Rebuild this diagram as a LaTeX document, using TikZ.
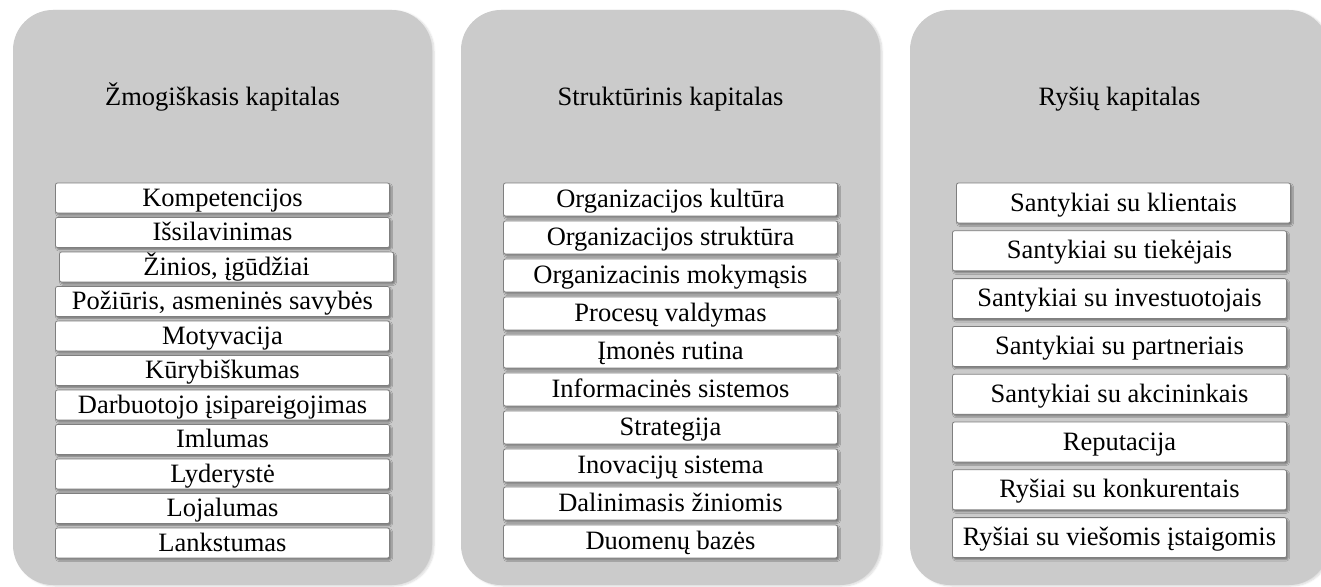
\documentclass[tikz,border=0pt]{standalone}
\usepackage{fontspec}
\setmainfont{Liberation Serif}
\usepackage{xcolor}
\usepackage{tikz}
\usetikzlibrary{positioning,shadows.blur}
\definecolor{icgray}{HTML}{CBCBCB}
\definecolor{icborder}{HTML}{7F7F7F}

\begin{document}
\begin{tikzpicture}[
  x=1pt, y=-1pt,
  font=\fontsize{26.5}{30}\selectfont,
  panel/.style={fill=icgray, rounded corners=40pt, minimum width=419pt,
                minimum height=575pt, inner sep=0pt, outer sep=0pt, anchor=north west,
                blur shadow={shadow xshift=2pt, shadow yshift=-1pt,
                             shadow opacity=15, shadow blur steps=6}},
  paneltitle/.style={inner sep=0pt, anchor=base},
  item/.style={draw=icborder, fill=white, rounded corners=2pt, line width=0.8pt,
               minimum width=334pt, text height=20pt, text depth=4pt,
               inner ysep=0pt, outer sep=0pt,
               blur shadow={shadow xshift=1.5pt, shadow yshift=-2pt,
                            shadow opacity=40, shadow blur radius=1.5pt}},
  hitem/.style={item, minimum height=30pt},
  sitem/.style={item, minimum height=33pt},
  ritem/.style={item, minimum height=40pt}
]
\clip (0,0) rectangle (1321,586);

\node[panel] (human) at (13,10) {};
\node[panel] (struct) at (461,10) {};
\node[panel] (relation) at (910,10) {};

\node[paneltitle] (humantitle) at ([yshift=-95pt]human.north) {Žmogiškasis kapitalas};
\node[paneltitle] (structtitle) at ([yshift=-95pt]struct.north) {Struktūrinis kapitalas};
\node[paneltitle] (relationtitle) at ([yshift=-95pt]relation.north) {Ryšių kapitalas};

% human capital
\node[hitem, anchor=north] (h1) at ([yshift=-173pt]human.north) {Kompetencijos};
\node[hitem, below=4.5pt of h1] (h2) {Išsilavinimas};
\node[hitem, below=4.5pt of h2, xshift=4pt] (h3) {Žinios, įgūdžiai};
\node[hitem, below=4.5pt of h3, xshift=-4pt] (h4) {Požiūris, asmeninės savybės};
\node[hitem, below=4.5pt of h4] (h5) {Motyvacija};
\node[hitem, below=4.5pt of h5] (h6) {Kūrybiškumas};
\node[hitem, below=4.5pt of h6] (h7) {Darbuotojo įsipareigojimas};
\node[hitem, below=4.5pt of h7] (h8) {Imlumas};
\node[hitem, below=4.5pt of h8] (h9) {Lyderystė};
\node[hitem, below=4.5pt of h9] (h10) {Lojalumas};
\node[hitem, below=4.5pt of h10] (h11) {Lankstumas};

% structural capital
\node[sitem, anchor=north] (s1) at ([yshift=-173pt]struct.north) {Organizacijos kultūra};
\node[sitem, below=5pt of s1] (s2) {Organizacijos struktūra};
\node[sitem, below=5pt of s2] (s3) {Organizacinis mokymąsis};
\node[sitem, below=5pt of s3] (s4) {Procesų valdymas};
\node[sitem, below=5pt of s4] (s5) {Įmonės rutina};
\node[sitem, below=5pt of s5] (s6) {Informacinės sistemos};
\node[sitem, below=5pt of s6] (s7) {Strategija};
\node[sitem, below=5pt of s7] (s8) {Inovacijų sistema};
\node[sitem, below=5pt of s8] (s9) {Dalinimasis žiniomis};
\node[sitem, below=5pt of s9] (s10) {Duomenų bazės};

% relational capital
\node[ritem, anchor=north, xshift=4pt] (r1) at ([yshift=-173pt]relation.north) {Santykiai su klientais};
\node[ritem, below=7.8pt of r1, xshift=-4pt] (r2) {Santykiai su tiekėjais};
\node[ritem, below=7.8pt of r2] (r3) {Santykiai su investuotojais};
\node[ritem, below=7.8pt of r3] (r4) {Santykiai su partneriais};
\node[ritem, below=7.8pt of r4] (r5) {Santykiai su akcininkais};
\node[ritem, below=7.8pt of r5] (r6) {Reputacija};
\node[ritem, below=7.8pt of r6] (r7) {Ryšiai su konkurentais};
\node[ritem, below=7.8pt of r7] (r8) {Ryšiai su viešomis įstaigomis};
\end{tikzpicture}
\end{document}
